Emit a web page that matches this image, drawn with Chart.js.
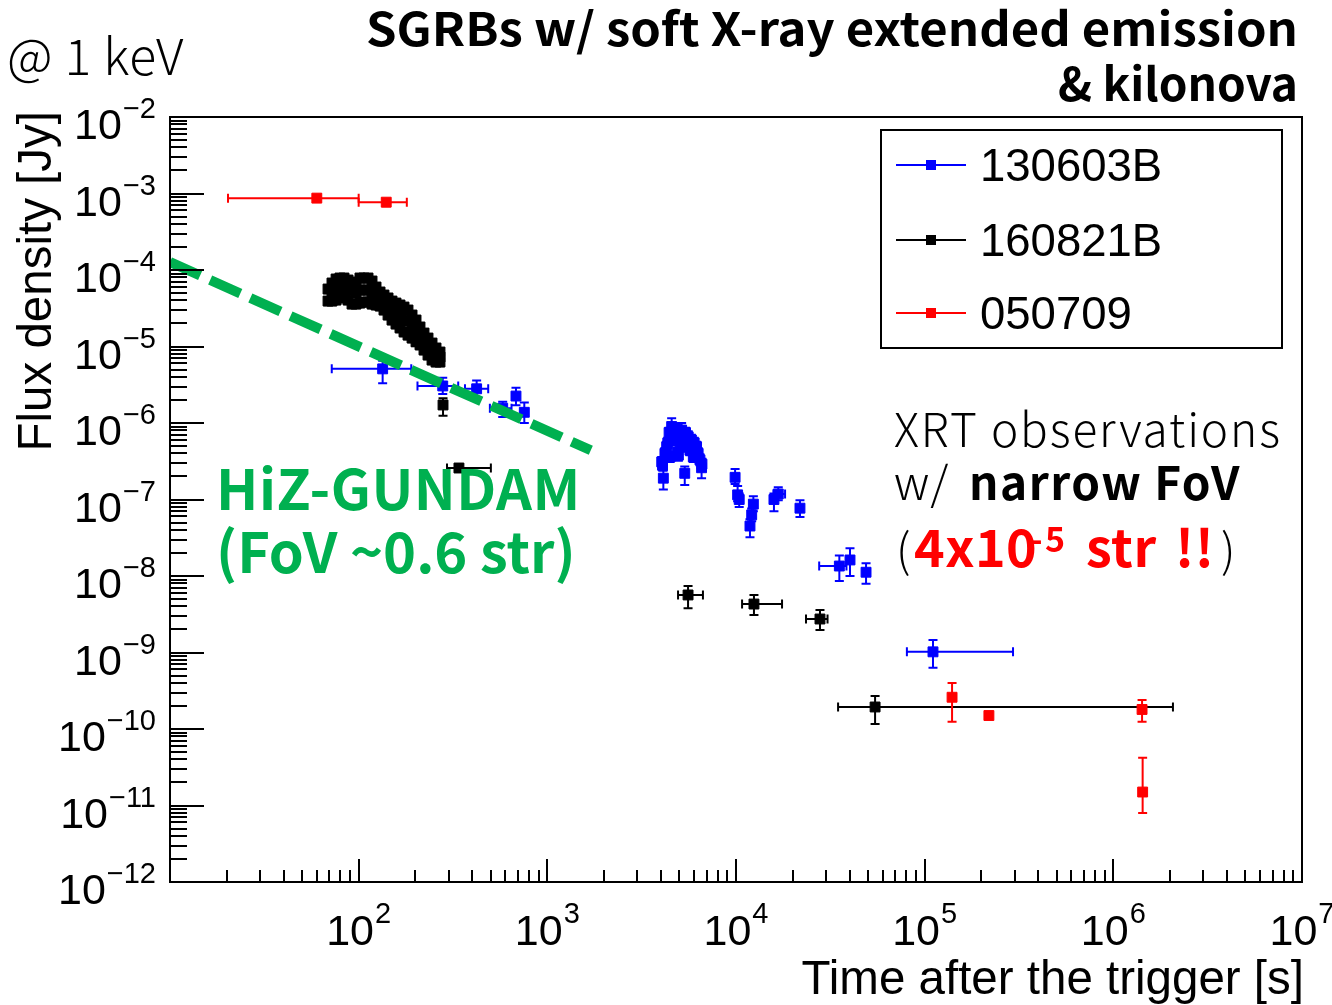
<!DOCTYPE html>
<html><head><meta charset="utf-8">
<script src="https://cdn.jsdelivr.net/npm/chart.js@4/dist/chart.umd.min.js"></script>
<style>html,body{margin:0;padding:0;background:#fff;overflow:hidden}#wrap{width:1332px;height:1005px;position:relative}</style>
</head><body><div id="wrap"><canvas id="c" width="1332" height="1005"></canvas></div>
<script>
// ---------------- DATA ----------------
const xMin = 10, xMax = 1e7, yMin = 1e-12, yMax = 1e-2;
const xTickExponents = [2, 3, 4, 5, 6, 7];
const yTickExponents = [-2, -3, -4, -5, -6, -7, -8, -9, -10, -11, -12];
const seriesLabels = ['130603B', '160821B', '050709'];

// GRB 130603B (blue)
const t130603B   = [134, 279, 422, 580, 682, 755,
  4040, 4080, 4120, 4200, 4290, 4350, 4420, 4470, 4560, 4600, 4650, 4750, 4800, 4900, 4950, 5000, 5050, 5150, 5250, 5350, 5400, 5500, 5580, 5700, 5800, 5940, 6000, 6180, 6300, 6440, 6570, 6600,
  9890, 10200, 10400, 11860, 12110, 12360, 15890, 16750, 21830, 35300, 40200, 48900, 110700];
const f130603B   = [5.1e-6, 3.05e-6, 2.8e-6, 1.56e-6, 2.25e-6, 1.38e-6,
  3.1e-7, 2.8e-7, 1.9e-7, 4.0e-7, 4.9e-7, 5.5e-7, 7.5e-7, 3.6e-7, 9.0e-7, 8.0e-7, 6.0e-7, 6.6e-7, 8.5e-7, 4.1e-7, 3.8e-7, 7.0e-7, 5.5e-7, 8.1e-7, 4.9e-7, 2.2e-7, 7.5e-7, 5.0e-7, 6.6e-7, 4.4e-7, 6.0e-7, 3.6e-7, 5.5e-7, 4.9e-7, 4.0e-7, 3.3e-7, 2.6e-7, 2.9e-7,
  1.95e-7, 1.15e-7, 1.0e-7, 4.5e-8, 6.3e-8, 8.7e-8, 1.0e-7, 1.18e-7, 7.7e-8, 1.35e-8, 1.62e-8, 1.12e-8, 1.02e-9];
const fLo130603B = [3.3e-6, 2.4e-6, 2.1e-6, 1.2e-6, 1.7e-6, 1.0e-6,
  2.7e-7, 2.4e-7, 1.35e-7, 3.4e-7, 4.2e-7, 4.7e-7, 6.4e-7, 3.1e-7, 7.6e-7, 6.8e-7, 5.1e-7, 5.6e-7, 7.2e-7, 3.5e-7, 3.2e-7, 6.0e-7, 4.7e-7, 6.9e-7, 4.2e-7, 1.55e-7, 6.4e-7, 4.3e-7, 5.6e-7, 3.8e-7, 5.1e-7, 3.1e-7, 4.7e-7, 4.2e-7, 3.4e-7, 2.8e-7, 1.9e-7, 2.5e-7,
  1.6e-7, 0.95e-7, 0.8e-7, 3.2e-8, 5.2e-8, 7.0e-8, 7.0e-8, 9.8e-8, 5.9e-8, 8.6e-9, 1.0e-8, 7.9e-9, 6.3e-10];
const fHi130603B = [6.5e-6, 3.9e-6, 3.6e-6, 1.9e-6, 2.9e-6, 1.85e-6,
  3.6e-7, 3.3e-7, 2.4e-7, 4.7e-7, 5.7e-7, 6.4e-7, 8.7e-7, 4.2e-7, 1.15e-6, 9.3e-7, 7.0e-7, 7.8e-7, 9.9e-7, 4.8e-7, 4.4e-7, 8.2e-7, 6.4e-7, 1.0e-6, 5.7e-7, 2.7e-7, 8.7e-7, 5.8e-7, 7.8e-7, 5.1e-7, 7.0e-7, 4.2e-7, 6.4e-7, 5.7e-7, 4.7e-7, 3.9e-7, 3.0e-7, 3.4e-7,
  2.5e-7, 1.5e-7, 1.2e-7, 5.5e-8, 7.6e-8, 1.1e-7, 1.2e-7, 1.45e-7, 9.8e-8, 1.86e-8, 2.3e-8, 1.47e-8, 1.46e-9];
const tLo130603B = [72, 205, 366, 496, null, null,
  null, null, null, null, null, null, null, null, null, null, null, null, null, null, null, null, null, null, null, null, null, null, null, null, null, null, null, null, null, null, null, null,
  null, null, null, null, null, null, null, 15800, null, 27600, null, null, 80500];
const tHi130603B = [190, 337, 486, 646, null, null,
  null, null, null, null, null, null, null, null, null, null, null, null, null, null, null, null, null, null, null, null, null, null, null, null, null, null, null, null, null, null, null, null,
  null, null, null, null, null, null, null, 18200, null, 38500, null, null, 294000];

// GRB 160821B (black): dense early light curve (68-270 s) + late points
const t160821B = [
  68.8, 68.8, 72.2, 72.2, 72.2, 75.9, 75.9, 75.9, 79.6, 79.6, 79.6, 83.6, 83.6, 83.6, 87.8, 87.8, 87.8,
  92.2, 92.2, 96.8, 96.8, 96.8, 101.6, 101.6, 101.6, 106.7, 106.7, 106.7, 112.1, 112.1, 112.1, 117.7, 117.7, 117.7,
  123.6, 123.6, 123.6, 129.8, 129.8, 129.8, 136.2, 136.2, 136.2, 143.1, 143.1, 143.1, 150.2, 150.2, 150.2,
  157.7, 157.7, 157.7, 165.6, 165.6, 165.6, 173.9, 173.9, 173.9, 182.6, 182.6, 182.6, 191.8, 191.8, 191.8,
  201.4, 201.4, 201.4, 211.4, 211.4, 211.4, 222.0, 222.0, 222.0, 233.1, 233.1, 233.1, 244.8, 244.8, 244.8,
  257.0, 257.0, 257.0, 269.8, 269.8, 269.8,
  280, 340, 5570, 12450, 27870, 54600];
const f160821B = [
  5.64e-5, 3.93e-5, 6.76e-5, 5.16e-5, 3.93e-5, 7.63e-5, 5.64e-5, 4.05e-5, 7.86e-5, 5.82e-5, 4.31e-5, 7.86e-5, 5.82e-5, 4.44e-5, 7.40e-5, 5.48e-5, 4.05e-5,
  6.37e-5, 3.59e-5, 6.97e-5, 5.0e-5, 3.59e-5, 7.86e-5, 5.48e-5, 3.70e-5, 7.86e-5, 5.48e-5, 3.82e-5, 7.86e-5, 5.48e-5, 3.82e-5, 7.18e-5, 5.16e-5, 3.59e-5,
  5.99e-5, 4.57e-5, 3.49e-5, 5.16e-5, 4.18e-5, 3.38e-5, 4.71e-5, 3.70e-5, 3.00e-5, 4.31e-5, 3.38e-5, 2.58e-5, 3.93e-5, 2.91e-5, 2.22e-5,
  3.70e-5, 2.74e-5, 1.97e-5, 3.49e-5, 2.50e-5, 1.75e-5, 3.28e-5, 2.22e-5, 1.55e-5, 3.00e-5, 2.15e-5, 1.41e-5, 2.58e-5, 1.80e-5, 1.29e-5,
  2.22e-5, 1.59e-5, 1.15e-5, 1.80e-5, 1.37e-5, 1.05e-5, 1.50e-5, 1.15e-5, 9.00e-6, 1.29e-5, 1.02e-5, 7.74e-6, 1.11e-5, 8.47e-6, 6.66e-6,
  9.56e-6, 7.74e-6, 6.27e-6, 8.47e-6, 7.29e-6, 6.27e-6,
  1.72e-6, 2.58e-7, 5.65e-9, 4.3e-9, 2.74e-9, 1.94e-10];
// explicit error bounds only for the isolated points; early points use relErrEarly160821B
const relErrEarly160821B = 0.12;
const fLoLate160821B = [1.24e-6, 2.3e-7, 3.8e-9, 3.1e-9, 1.97e-9, 1.16e-10];
const fHiLate160821B = [2.1e-6, 2.9e-7, 7.4e-9, 5.65e-9, 3.6e-9, 2.7e-10];
const tLoLate160821B = [270, 294, 4930, 10770, 23500, 34760];
const tHiLate160821B = [290, 502, 6680, 17540, 30560, 2070000];

// GRB 050709 (red)
const t050709   = [60, 140, 139700, 219000, 1420000, 1430000];
const f050709   = [8.7e-4, 7.7e-4, 2.6e-10, 1.5e-10, 1.8e-10, 1.5e-11];
const fLo050709 = [8.0e-4, 6.8e-4, 1.24e-10, null, 1.24e-10, 8e-12];
const fHi050709 = [9.3e-4, 8.5e-4, 4.0e-10, null, 2.4e-10, 4.2e-11];
const tLo050709 = [20.3, 100, null, null, null, null];
const tHi050709 = [100, 180, null, null, null, null];

// HiZ-GUNDAM sensitivity (green dashed)
const tGundam = [10, 1700];
const fGundam = [1.27e-4, 4.4e-7];

// ---------------- BUILD ----------------
function pts(t, f) { return t.map((v, i) => ({ x: v, y: f[i] })); }
function errs(tLo, tHi, fLo, fHi) { return tLo.map((v, i) => ({ tLo: v, tHi: tHi[i], fLo: fLo[i], fHi: fHi[i] })); }
function blackErrs() {
  const nEarly = t160821B.length - tLoLate160821B.length;
  return t160821B.map((t, i) => i < nEarly
    ? { tLo: null, tHi: null, fLo: f160821B[i] * (1 - relErrEarly160821B), fHi: f160821B[i] * (1 + relErrEarly160821B) }
    : { tLo: tLoLate160821B[i - nEarly], tHi: tHiLate160821B[i - nEarly], fLo: fLoLate160821B[i - nEarly], fHi: fHiLate160821B[i - nEarly] });
}
const COLORS = ['#0000ff', '#000000', '#ff0000'];
const GREEN = '#00b050';

function pointDs(label, color, data, err, order) {
  return { type: 'scatter', label, data, err, order,
    backgroundColor: color, borderColor: color, pointStyle: 'rect',
    pointRadius: 7, pointBorderWidth: 1, pointHoverRadius: 7, showLine: false };
}

const datasets = [
  { type: 'line', label: 'HiZ-GUNDAM', data: pts(tGundam, fGundam), order: 0,
    borderColor: GREEN, borderWidth: 10, borderDash: [33, 11], borderCapStyle: 'butt',
    pointRadius: 0, fill: false, tension: 0 },
  pointDs(seriesLabels[2], COLORS[2], pts(t050709, f050709), errs(tLo050709, tHi050709, fLo050709, fHi050709), 1),
  pointDs(seriesLabels[0], COLORS[0], pts(t130603B, f130603B), errs(tLo130603B, tHi130603B, fLo130603B, fHi130603B), 2),
  pointDs(seriesLabels[1], COLORS[1], pts(t160821B, f160821B), blackErrs(), 3),
];

const HELV = '"Liberation Sans", Arial, Helvetica, sans-serif';
const JP = '"Noto Sans CJK JP", "Noto Sans", sans-serif';

function drawErrorBars(chart) {
  const ctx = chart.ctx, xs = chart.scales.x, ys = chart.scales.y, a = chart.chartArea;
  const cap = 4.5;
  ctx.save();
  ctx.beginPath(); ctx.rect(a.left, a.top, a.right - a.left, a.bottom - a.top); ctx.clip();
  const list = chart.data.datasets.filter(d => d.err).slice().sort((p, q) => q.order - p.order);
  list.forEach(ds => {
    ctx.strokeStyle = ds.borderColor; ctx.lineWidth = 2;
    ds.data.forEach((p, i) => {
      const e = ds.err[i];
      const px = xs.getPixelForValue(p.x), py = ys.getPixelForValue(p.y);
      ctx.beginPath();
      if (e.tLo != null && e.tHi != null) {
        const x1 = xs.getPixelForValue(e.tLo), x2 = xs.getPixelForValue(e.tHi);
        ctx.moveTo(x1, py); ctx.lineTo(x2, py);
        ctx.moveTo(x1, py - cap); ctx.lineTo(x1, py + cap);
        ctx.moveTo(x2, py - cap); ctx.lineTo(x2, py + cap);
      }
      if (e.fLo != null && e.fHi != null) {
        const y1 = ys.getPixelForValue(e.fLo), y2 = ys.getPixelForValue(e.fHi);
        ctx.moveTo(px, y1); ctx.lineTo(px, y2);
        ctx.moveTo(px - cap, y1); ctx.lineTo(px + cap, y1);
        ctx.moveTo(px - cap, y2); ctx.lineTo(px + cap, y2);
      }
      ctx.stroke();
    });
  });
  ctx.restore();
}

function drawPow(ctx, exp, x, baseY, supY, align) {
  const base = '10', sup = exp < 0 ? '\u2212' + (-exp) : String(exp);
  ctx.font = '43px ' + HELV; const wb = ctx.measureText(base).width;
  ctx.font = '29px ' + HELV; const ws = ctx.measureText(sup).width;
  const left = align === 'right' ? x - wb - ws - 1 : x - (wb + ws + 1) / 2;
  ctx.textAlign = 'left'; ctx.textBaseline = 'alphabetic';
  ctx.font = '43px ' + HELV; ctx.fillText(base, left, baseY);
  ctx.font = '29px ' + HELV; ctx.fillText(sup, left + wb + 1, supY);
}

function drawAxes(chart) {
  const ctx = chart.ctx, xs = chart.scales.x, ys = chart.scales.y, a = chart.chartArea;
  ctx.save();
  ctx.strokeStyle = '#000'; ctx.fillStyle = '#000';
  ctx.lineWidth = 2;
  ctx.strokeRect(a.left, a.top, a.right - a.left, a.bottom - a.top);
  ctx.beginPath();
  for (let e = Math.log10(yMin); e < Math.log10(yMax); e++) {
    for (let m = 1; m <= 9; m++) {
      const py = Math.round(ys.getPixelForValue(m * Math.pow(10, e)));
      const len = m === 1 ? 34 : 17;
      ctx.moveTo(a.left, py); ctx.lineTo(a.left + len, py);
    }
  }
  for (let e = Math.log10(xMin); e < Math.log10(xMax); e++) {
    for (let m = 1; m <= 9; m++) {
      const px = Math.round(xs.getPixelForValue(m * Math.pow(10, e)));
      const len = m === 1 ? 23 : 12;
      ctx.moveTo(px, a.bottom); ctx.lineTo(px, a.bottom - len);
    }
  }
  ctx.stroke();
  yTickExponents.forEach(e => {
    const py = ys.getPixelForValue(Math.pow(10, e));
    drawPow(ctx, e, 156, py + 22, py + 1, 'right');
  });
  xTickExponents.forEach(e => {
    const px = xs.getPixelForValue(Math.pow(10, e));
    drawPow(ctx, e, px, 945, 923, 'center');
  });
  ctx.font = '47.5px ' + HELV;
  ctx.textAlign = 'right';
  ctx.fillText('Time after the trigger [s]', a.right + 2, 994);
  ctx.save();
  ctx.translate(51, a.top - 6); ctx.rotate(-Math.PI / 2);
  ctx.textAlign = 'right';
  ctx.fillText('Flux density [Jy]', 0, 0);
  ctx.restore();
  ctx.restore();
}

function drawLegend(chart) {
  const ctx = chart.ctx;
  ctx.save();
  ctx.fillStyle = '#fff'; ctx.fillRect(881, 130, 401, 218);
  ctx.strokeStyle = '#000'; ctx.lineWidth = 2; ctx.strokeRect(881, 130, 401, 218);
  const rows = [165, 240, 313];
  seriesLabels.forEach((lab, i) => {
    const y = rows[i];
    ctx.strokeStyle = COLORS[i]; ctx.fillStyle = COLORS[i]; ctx.lineWidth = 2;
    ctx.beginPath(); ctx.moveTo(896, y); ctx.lineTo(966, y); ctx.stroke();
    ctx.fillRect(926, y - 5, 10, 10);
    ctx.fillStyle = '#000'; ctx.font = '45.5px ' + HELV; ctx.textAlign = 'left'; ctx.textBaseline = 'alphabetic';
    ctx.fillText(lab, 980, y + 16);
  });
  ctx.restore();
}

function txt(ctx, s, x, y, font, color, ls) {
  ctx.font = font; ctx.fillStyle = color;
  ctx.letterSpacing = (ls || 0) + 'px';
  ctx.fillText(s, x, y);
  ctx.letterSpacing = '0px';
}
// draws text stretched horizontally to a given width
function fitText(ctx, s, x, y, font, color, width, align) {
  ctx.font = font; ctx.fillStyle = color;
  const w = ctx.measureText(s).width;
  ctx.save(); ctx.translate(x, y); ctx.scale(width / w, 1);
  ctx.textAlign = align; ctx.fillText(s, 0, 0); ctx.restore();
}

function drawAnnotations(chart) {
  const ctx = chart.ctx;
  ctx.save();
  ctx.textBaseline = 'alphabetic';
  ctx.textAlign = 'left';
  txt(ctx, '@ 1 keV', 7, 75, '300 50px ' + JP, '#000', 0.5);
  fitText(ctx, 'SGRBs w/ soft X-ray extended emission', 1298, 46, 'bold 46px ' + JP, '#000', 932, 'right');
  fitText(ctx, '& kilonova', 1298, 101, 'bold 46px ' + JP, '#000', 240, 'right');
  ctx.textAlign = 'left';
  txt(ctx, 'HiZ-GUNDAM', 216, 510, 'bold 56px ' + JP, GREEN, 0.5);
  txt(ctx, '(FoV ~0.6 str)', 216, 573, 'bold 56px ' + JP, GREEN, 0);
  txt(ctx, 'XRT observations', 894, 447, '300 46px ' + JP, '#000', 1.9);
  txt(ctx, 'w/', 894, 500, '300 46px ' + JP, '#000', 1.5);
  txt(ctx, 'narrow FoV', 969, 500, 'bold 46px ' + JP, '#000', 1.5);
  txt(ctx, '(', 896, 567, '300 46px ' + JP, '#000');
  txt(ctx, '4x10', 914, 567, 'bold 52px ' + JP, '#ff0000', 0.5);
  txt(ctx, '-', 1030, 552, 'bold 34px ' + JP, '#ff0000', 0);
  txt(ctx, '5', 1045, 552, 'bold 34px ' + JP, '#ff0000', 0);
  txt(ctx, 'str', 1086, 567, 'bold 52px ' + JP, '#ff0000', 0.5);
  txt(ctx, '!!', 1175, 567, 'bold 52px ' + JP, '#ff0000', 0.5);
  txt(ctx, ')', 1221, 567, '300 46px ' + JP, '#000');
  ctx.restore();
}

const overlay = {
  id: 'rootStyle',
  beforeDatasetsDraw(chart) { drawErrorBars(chart); },
  afterDraw(chart) { drawAxes(chart); drawLegend(chart); drawAnnotations(chart); }
};

new Chart(document.getElementById('c'), {
  data: { datasets },
  options: {
    responsive: false, animation: false, devicePixelRatio: 1,
    layout: { padding: { left: 170, right: 30, top: 117, bottom: 123 } },
    scales: {
      x: { type: 'logarithmic', min: xMin, max: xMax, position: 'bottom',
           ticks: { display: false }, grid: { display: false, drawTicks: false }, border: { display: false },
           afterFit(s) { s.height = 0; } },
      y: { type: 'logarithmic', min: yMin, max: yMax, position: 'left',
           ticks: { display: false }, grid: { display: false, drawTicks: false }, border: { display: false },
           afterFit(s) { s.width = 0; } }
    },
    plugins: { legend: { display: false }, tooltip: { enabled: false }, title: { display: false } },
    events: []
  },
  plugins: [overlay]
});
</script></body></html>
